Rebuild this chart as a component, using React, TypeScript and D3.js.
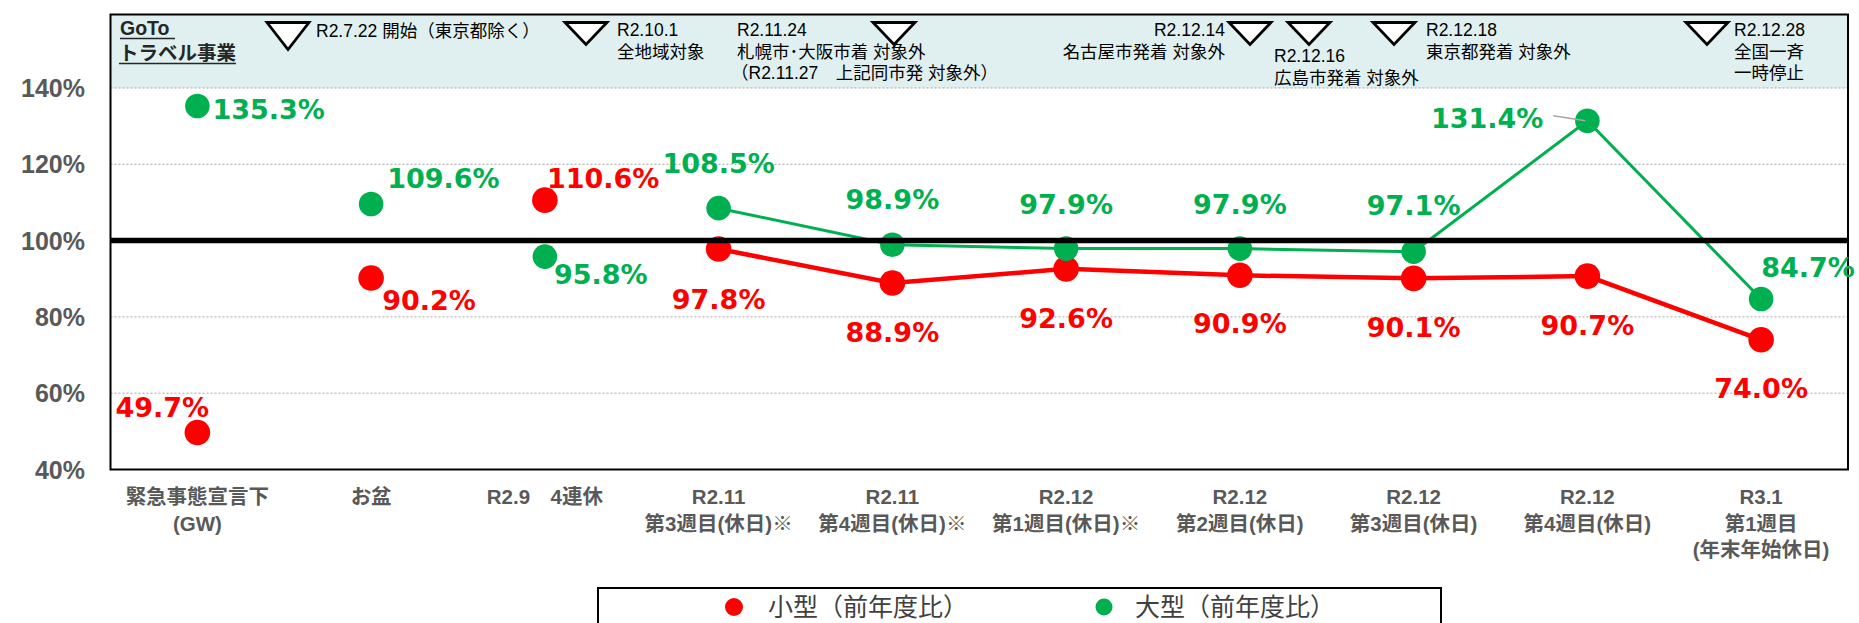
import * as d3 from 'd3';

// categories (x axis, one array per line)
const categories: string[][] = [
    ['緊急事態宣言下', '(GW)'],
    ['お盆'],
    ['R2.9　4連休'],
    ['R2.11', '第3週目(休日)※'],
    ['R2.11', '第4週目(休日)※'],
    ['R2.12', '第1週目(休日)※'],
    ['R2.12', '第2週目(休日)'],
    ['R2.12', '第3週目(休日)'],
    ['R2.12', '第4週目(休日)'],
    ['R3.1', '第1週目', '(年末年始休日)'],
];

// 小型 / 大型 (前年度比, %)
const smallValues = [49.7, 90.2, 110.6, 97.8, 88.9, 92.6, 90.9, 90.1, 90.7, 74.0];
const largeValues = [135.3, 109.6, 95.8, 108.5, 98.9, 97.9, 97.9, 97.1, 131.4, 84.7];

// the lines only join the weekly points (from R2.11 on)
const lineStart = 3;

const yTicks = [40, 60, 80, 100, 120, 140];
const seriesNames = ['小型（前年度比）', '大型（前年度比）'];

// GoTo annotations in the top band
const eventMarks = [
    { lines: ['R2.7.22 開始（東京都除く）'] },
    { lines: ['R2.10.1', '全地域対象'] },
    { lines: ['R2.11.24', '札幌市･大阪市着 対象外', '（R2.11.27　上記同市発 対象外）'] },
    { lines: ['R2.12.14', '名古屋市発着 対象外'] },
    { lines: ['R2.12.16', '広島市発着 対象外'] },
    { lines: ['R2.12.18', '東京都発着 対象外'] },
    { lines: ['R2.12.28', '全国一斉', '一時停止'] },
];

// layout for the annotations and data labels (hand placed, like the original)
const markPos = [
    { tx: 267, th: 27, x: 316, y: 37, anchor: 'start' },
    { tx: 565, th: 22, x: 617, y: 36, anchor: 'start' },
    { tx: 873, th: 22, x: 737, y: 36, anchor: 'start' },
    { tx: 1229, th: 22, x: 1225, y: 36, anchor: 'end' },
    { tx: 1288, th: 22, x: 1274, y: 62, anchor: 'start' },
    { tx: 1373, th: 22, x: 1426, y: 36, anchor: 'start' },
    { tx: 1686, th: 22, x: 1734, y: 36, anchor: 'start' },
];
const smallLabelPos: [string, number, number][] = [
    ['start', -82, -15], ['start', 11, 32], ['start', 2, -12], ['middle', 0, 60], ['middle', 0, 59],
    ['middle', 0, 59], ['middle', 0, 58], ['middle', 0, 59], ['middle', 0, 59], ['middle', 0, 58],
];
const largeLabelPos: [string, number, number][] = [
    ['start', 15, 13], ['start', 16, -16], ['start', 9, 27], ['middle', 0, -35], ['middle', 0, -36],
    ['middle', 0, -35], ['middle', 0, -35], ['middle', 0, -37], ['end', -44, 7], ['start', 0, -22],
];

const RED = '#FF0000';
const GREEN = '#00B050';
const W = 1859;
const H = 623;
const left = 110.5;
const right = 1848;
const top = 14.5;

export default function App() {
    const x = d3.scalePoint<number>()
        .domain(categories.map((d, i) => i))
        .range([left, right])
        .padding(0.5);

    const y = d3.scaleLinear()
        .domain([40, 140])
        .range([469.5, 88]);

    const line = d3.line<number>()
        .x((d, i) => x(i + lineStart) as number)
        .y(d => y(d));

    const labelFont = 'DejaVu Sans, Verdana, sans-serif';
    const jpFont = '"Liberation Sans", Arial, "Noto Sans CJK JP", sans-serif';

    const drawLabels = (vals: number[], pos: [string, number, number][], color: string) =>
        vals.map((v, i) => (
            <text key={i}
                x={(x(i) as number) + pos[i][1]}
                y={y(v) + pos[i][2]}
                textAnchor={pos[i][0] as any}
                fontFamily={labelFont}
                fontWeight="bold"
                fontSize={27}
                fill={color}>
                {v.toFixed(1)}%
            </text>
        ));

    return (
        <svg width={W} height={H} style={{ position: 'absolute', left: 0, top: 0, display: 'block' }}>
            <rect x={0} y={0} width={W} height={H} fill="white" />

            {/* top band with the GoTo events */}
            <rect x={left} y={top} width={right - left} height={y(140) - top} fill="#E0F0F0" />

            {/* grid */}
            {yTicks.filter(t => t !== 40 && t !== 100).map(t => (
                <line key={t} x1={left} x2={right} y1={y(t)} y2={y(t)}
                    stroke="#A6A6A6" strokeWidth={1} strokeDasharray="2 2" />
            ))}

            {/* frame */}
            <rect x={left} y={top} width={right - left} height={y(40) - top}
                fill="none" stroke="#000" strokeWidth={2} />

            {/* y axis labels */}
            {yTicks.map(t => (
                <text key={t} x={85} y={y(t)} dy="0.36em" textAnchor="end"
                    fontFamily='"Liberation Sans", Arial, sans-serif' fontWeight="bold"
                    fontSize={25} fill="#595959">{t}%</text>
            ))}

            {/* x axis labels */}
            {categories.map((lines, i) => (
                <text key={i} textAnchor="middle" fontFamily={jpFont} fontWeight="bold"
                    fontSize={20.5} fill="#595959">
                    {lines.map((l, j) => (
                        <tspan key={j} x={x(i)} y={497 + j * 26.5} dy="0.36em">{l}</tspan>
                    ))}
                </text>
            ))}

            {/* GoTo title */}
            <text fontFamily={jpFont} fontWeight="bold" fontSize={19.5} fill="#262626">
                <tspan x={120} y={35}>GoTo</tspan>
                <tspan x={119} y={60}>トラベル事業</tspan>
            </text>
            <line x1={120} x2={175} y1={38.5} y2={38.5} stroke="#262626" strokeWidth={1.5} />
            <line x1={119} x2={236} y1={63.5} y2={63.5} stroke="#262626" strokeWidth={1.5} />

            {/* event triangles and texts */}
            {eventMarks.map((m, i) => {
                const p = markPos[i];
                const ty = 22.5;
                return (
                    <g key={i}>
                        <path d={`M${p.tx},${ty} L${p.tx + 42},${ty} L${p.tx + 21},${ty + p.th} Z`}
                            fill="white" stroke="#000" strokeWidth={2.8} strokeLinejoin="miter" />
                        <text fontFamily={jpFont} fontSize={17.5} fill="#000" textAnchor={p.anchor as any}>
                            {m.lines.map((l, j) => (
                                <tspan key={j} x={p.x - (l.startsWith('（') ? 6 : 0)} y={p.y + j * 21.5}>{l}</tspan>
                            ))}
                        </text>
                    </g>
                );
            })}

            {/* series lines */}
            <path d={line(smallValues.slice(lineStart)) ?? ''} fill="none" stroke={RED} strokeWidth={4.5} />
            <path d={line(largeValues.slice(lineStart)) ?? ''} fill="none" stroke={GREEN} strokeWidth={3} />

            {/* markers */}
            {smallValues.map((v, i) => (
                <circle key={'s' + i} cx={x(i)} cy={y(v)} r={12.8} fill={RED} />
            ))}
            {largeValues.map((v, i) => (
                <circle key={'l' + i} cx={x(i)} cy={y(v)} r={12.3} fill={GREEN} />
            ))}

            {/* 100% line */}
            <line x1={left} x2={right} y1={y(100)} y2={y(100)} stroke="#000" strokeWidth={5.5} />

            {/* leader line for 131.4% */}
            <line x1={(x(8) as number) - 34} y1={y(largeValues[8]) - 5}
                x2={(x(8) as number) - 2} y2={y(largeValues[8])}
                stroke="#A6A6A6" strokeWidth={1.5} />

            {/* data labels */}
            {drawLabels(smallValues, smallLabelPos, RED)}
            {drawLabels(largeValues, largeLabelPos, GREEN)}

            {/* legend */}
            <rect x={598} y={588} width={843} height={60} fill="white" stroke="#000" strokeWidth={2} />
            <circle cx={734} cy={607} r={9} fill={RED} />
            <text x={768} y={607} dy="0.36em" fontFamily={jpFont} fontSize={25} fill="#404040">{seriesNames[0]}</text>
            <circle cx={1104} cy={607} r={8.5} fill={GREEN} />
            <text x={1135} y={607} dy="0.36em" fontFamily={jpFont} fontSize={25} fill="#404040">{seriesNames[1]}</text>
        </svg>
    );
}
